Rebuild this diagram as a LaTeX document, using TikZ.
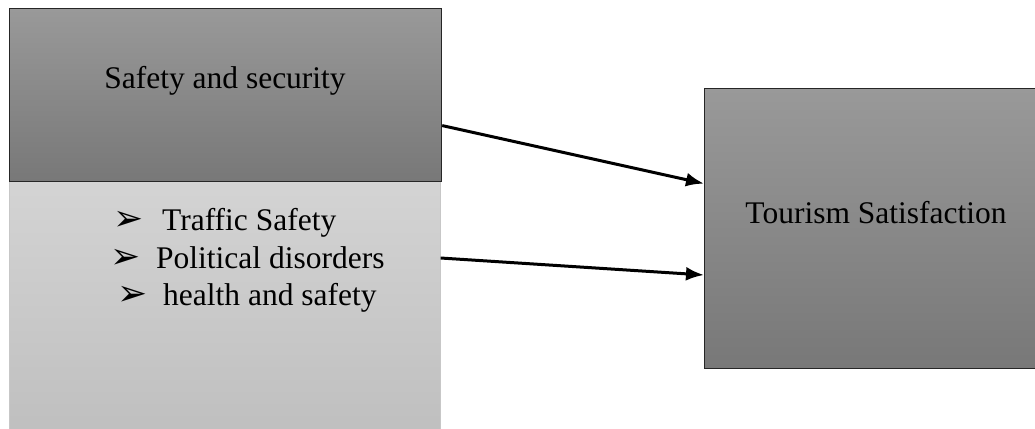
\documentclass[tikz,border=0pt]{standalone}
\usepackage{fontspec}
\setmainfont{Liberation Serif}
\newfontfamily\symfont{DejaVu Sans}
\usetikzlibrary{calc, arrows.meta}

\tikzset{
    darkbox/.style={draw=black!85, line width=1.2pt, top color=black!40, bottom color=black!53, anchor=north west, inner sep=0pt},
    lightbox/.style={draw=black!22, line width=0.6pt, top color=black!17, bottom color=black!25, anchor=north west, inner sep=0pt},
    label/.style={font=\fontsize{31.5}{38}\selectfont, inner sep=0pt},
    link/.style={->, line width=3pt}
}
\newcommand{\pointer}{\makebox[20pt][l]{\symfont\fontsize{36}{40}\selectfont ➢}}

\begin{document}
\begin{tikzpicture}[x=1pt, y=-1pt, >={Latex[length=18pt,width=14pt]}]
    % 1. Vùng hiển thị
    \useasboundingbox (0,0) rectangle (1035,428);

    % 2. Hai khối bên trái
    \node[lightbox, minimum width=431pt, minimum height=250pt] (factors) at (9,181) {};
    \node[darkbox, minimum width=432pt, minimum height=173pt] (safety) at (9,8) {};
    \node[label, anchor=base] (safetytext) at (225,88) {Safety and security};

    % 3. Các ý trong khối dưới
    \node[label, anchor=base west] (traffic) at (113,230) {\pointer\hspace{29pt}Traffic Safety};
    \node[label, anchor=base west] (political) at (110,268) {\pointer\hspace{26pt}Political disorders};
    \node[label, anchor=base west] (health) at (117,305) {\pointer\hspace{26pt}health and safety};

    % 4. Khối bên phải
    \node[darkbox, minimum width=340pt, minimum height=280pt] (tourism) at (704,88) {};
    \node[label, anchor=base] (tourismtext) at (876,223) {Tourism Satisfaction};

    % 5. Mũi tên
    \coordinate (from1) at ($(safety.north east)!0.675!(safety.south east)$);
    \coordinate (to1) at ($(tourism.north west)!0.34!(tourism.south west)$);
    \coordinate (from2) at (factors.east |- 0,258);
    \coordinate (to2) at ($(tourism.north west)!0.665!(tourism.south west)$);
    \draw[link] (from1) -- (to1);
    \draw[link] (from2) -- (to2);
\end{tikzpicture}
\end{document}
